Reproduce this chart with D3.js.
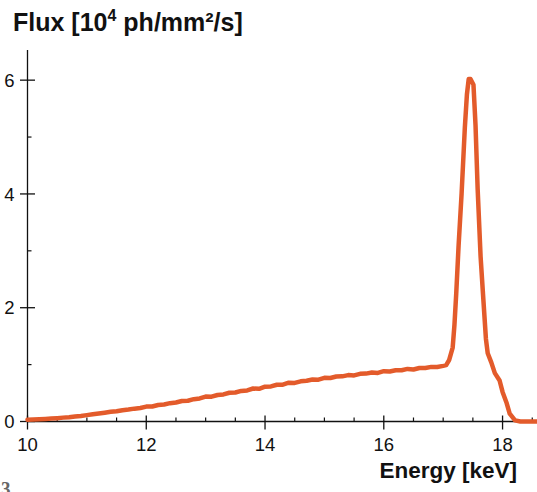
<!DOCTYPE html>
<html>
<head>
<meta charset="utf-8">
<script src="https://cdn.jsdelivr.net/npm/d3@7"></script>
<style>
  html, body { margin: 0; padding: 0; background: #fff; overflow: hidden; }
  svg { display: block; font-family: "Liberation Sans", Arial, sans-serif; }
</style>
</head>
<body>
<svg id="chart" width="537" height="492"></svg>
<script>
// Photon energy (keV) of each sample in the spectrum
const energy = [
  10.0, 10.1, 10.2, 10.3, 10.4, 10.5, 10.6, 10.7, 10.8, 10.9,
  11.0, 11.1, 11.2, 11.3, 11.4, 11.5, 11.6, 11.7, 11.8, 11.9,
  12.0, 12.1, 12.2, 12.3, 12.4, 12.5, 12.6, 12.7, 12.8, 12.9,
  13.0, 13.1, 13.2, 13.3, 13.4, 13.5, 13.6, 13.7, 13.8, 13.9,
  14.0, 14.1, 14.2, 14.3, 14.4, 14.5, 14.6, 14.7, 14.8, 14.9,
  15.0, 15.1, 15.2, 15.3, 15.4, 15.5, 15.6, 15.7, 15.8, 15.9,
  16.0, 16.1, 16.2, 16.3, 16.4, 16.5, 16.6, 16.7, 16.8, 16.9,
  17.0, 17.05, 17.10, 17.16, 17.19, 17.22, 17.26, 17.31, 17.365, 17.40,
  17.43, 17.46, 17.51, 17.545, 17.58, 17.63, 17.67, 17.72, 17.75, 17.81,
  17.87, 17.95, 18.0, 18.07, 18.12, 18.21, 18.3, 18.58
];

// Flux in units of 10^4 photons / mm^2 / s
const flux = [
  0.030, 0.034, 0.039, 0.045, 0.051, 0.059, 0.068, 0.076, 0.087, 0.097,
  0.112, 0.128, 0.140, 0.154, 0.170, 0.180, 0.198, 0.210, 0.226, 0.238,
  0.262, 0.264, 0.290, 0.298, 0.322, 0.334, 0.360, 0.364, 0.392, 0.406,
  0.438, 0.436, 0.466, 0.476, 0.506, 0.510, 0.538, 0.546, 0.580, 0.574,
  0.612, 0.616, 0.646, 0.648, 0.682, 0.678, 0.706, 0.716, 0.738, 0.736,
  0.768, 0.764, 0.790, 0.794, 0.816, 0.810, 0.838, 0.842, 0.862, 0.854,
  0.884, 0.878, 0.900, 0.900, 0.924, 0.914, 0.940, 0.940, 0.960, 0.958,
  0.978, 0.990, 1.08, 1.30, 1.70, 2.25, 3.10, 4.00, 5.17, 5.75,
  6.02, 6.02, 5.92, 5.20, 4.10, 2.90, 2.25, 1.45, 1.20, 1.04,
  0.85, 0.72, 0.52, 0.32, 0.14, 0.02, 0.0, 0.0
];

const xTicks = [10, 12, 14, 16, 18];
const xMinorTicks = [10.5, 11, 11.5, 12.5, 13, 13.5, 14.5, 15, 15.5, 16.5, 17, 17.5, 18.5];
const yTicks = [0, 2, 4, 6];
const yMinorTicks = [1, 3, 5];

const svg = d3.select("#chart");

const x = d3.scaleLinear().domain([10, 18.58]).range([27.5, 537]);
const y = d3.scaleLinear().domain([0, 6.53]).range([421.5, 50]);

const axisColor = "#111";

// x axis: long ticks crossing the line, short inward minor ticks
const gx = svg.append("g").attr("transform", `translate(0,${y(0)})`);
gx.append("line").attr("x1", x(10)).attr("x2", 537)
  .attr("stroke", axisColor).attr("stroke-width", 1.3);
gx.selectAll("line.major").data(xTicks).join("line")
  .attr("class", "major")
  .attr("x1", d => x(d)).attr("x2", d => x(d))
  .attr("y1", -6).attr("y2", 8)
  .attr("stroke", axisColor).attr("stroke-width", 1.3);
gx.selectAll("line.minor").data(xMinorTicks).join("line")
  .attr("class", "minor")
  .attr("x1", d => x(d)).attr("x2", d => x(d))
  .attr("y1", -4).attr("y2", 0)
  .attr("stroke", axisColor).attr("stroke-width", 1.2);
gx.selectAll("text").data(xTicks).join("text")
  .attr("x", d => x(d)).attr("y", 29)
  .attr("text-anchor", "middle")
  .attr("font-size", 18.5).attr("fill", "#111")
  .text(d => d);

// y axis
const gy = svg.append("g").attr("transform", `translate(${x(10)},0)`);
gy.append("line").attr("y1", 50).attr("y2", y(0))
  .attr("stroke", axisColor).attr("stroke-width", 1.3);
gy.selectAll("line.major").data(yTicks).join("line")
  .attr("class", "major")
  .attr("y1", d => y(d)).attr("y2", d => y(d))
  .attr("x1", -7.5).attr("x2", 7.5)
  .attr("stroke", axisColor).attr("stroke-width", 1.3);
gy.selectAll("line.minor").data(yMinorTicks).join("line")
  .attr("class", "minor")
  .attr("y1", d => y(d)).attr("y2", d => y(d))
  .attr("x1", 0).attr("x2", 4)
  .attr("stroke", axisColor).attr("stroke-width", 1.2);
gy.selectAll("text").data(yTicks).join("text")
  .attr("x", -13).attr("y", d => y(d) + 6.6)
  .attr("text-anchor", "end")
  .attr("font-size", 18.5).attr("fill", "#111")
  .text(d => d);

// Spectrum curve
const line = d3.line()
  .x((d, i) => x(energy[i]))
  .y(d => y(d));

svg.append("path")
  .datum(flux)
  .attr("d", line)
  .attr("fill", "none")
  .attr("stroke", "#e35b2b")
  .attr("stroke-width", 4.5)
  .attr("stroke-linejoin", "round")
  .attr("stroke-linecap", "round");

// Axis titles
const yTitle = svg.append("text")
  .attr("x", 13).attr("y", 31)
  .attr("font-size", 25).attr("font-weight", "bold").attr("fill", "#111");
yTitle.append("tspan").text("Flux [10");
yTitle.append("tspan").attr("font-size", 16).attr("dy", -10).text("4");
yTitle.append("tspan").attr("dy", 10).text(" ph/mm²/s]");

svg.append("text")
  .attr("x", 517).attr("y", 478)
  .attr("text-anchor", "end")
  .attr("font-size", 22.5).attr("font-weight", "bold").attr("fill", "#111")
  .text("Energy [keV]");

// Panel number at the lower-left edge
svg.append("text")
  .attr("x", 1).attr("y", 495)
  .attr("font-family", "Liberation Serif, serif")
  .attr("font-size", 19).attr("font-weight", "bold").attr("fill", "#666")
  .text("3");
</script>
</body>
</html>
